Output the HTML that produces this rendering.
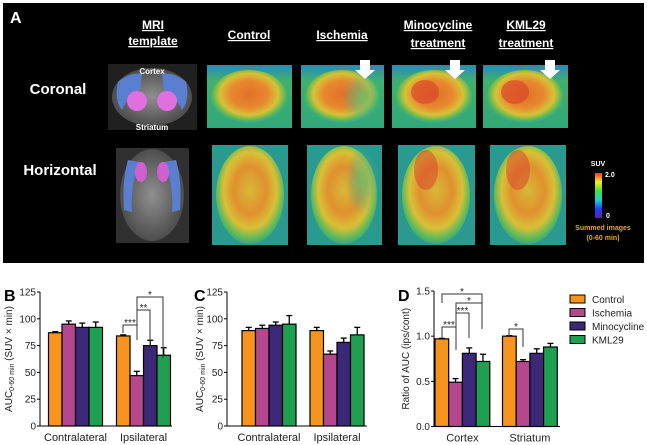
<!DOCTYPE html>
<html><head><meta charset="utf-8">
<style>
html,body{margin:0;padding:0;background:#fff;}
svg{display:block;font-family:"Liberation Sans",Arial,sans-serif;}
</style></head>
<body>
<svg id="fig" width="647" height="445" viewBox="0 0 647 445">
<defs>
  <radialGradient id="petC" cx="50%" cy="45%" r="55%">
    <stop offset="0%" stop-color="#e0702a"/>
    <stop offset="45%" stop-color="#e8882e"/>
    <stop offset="70%" stop-color="#d6c236"/>
    <stop offset="88%" stop-color="#52b85a"/>
    <stop offset="100%" stop-color="#2aa0a0"/>
  </radialGradient>
  <radialGradient id="petH" cx="50%" cy="45%" r="60%">
    <stop offset="0%" stop-color="#d8b838"/>
    <stop offset="40%" stop-color="#e0902e"/>
    <stop offset="65%" stop-color="#d8c036"/>
    <stop offset="85%" stop-color="#50b860"/>
    <stop offset="100%" stop-color="#2890a8"/>
  </radialGradient>
  <linearGradient id="bgC" x1="0" y1="0" x2="0" y2="1">
    <stop offset="0%" stop-color="#2a8ab8"/>
    <stop offset="25%" stop-color="#40b070"/>
    <stop offset="100%" stop-color="#30a878"/>
  </linearGradient>
  <radialGradient id="isch" cx="50%" cy="50%" r="50%">
    <stop offset="0%" stop-color="#70c060" stop-opacity="0.9"/>
    <stop offset="100%" stop-color="#3aa8a0" stop-opacity="0"/>
  </radialGradient>
  <radialGradient id="mri" cx="50%" cy="50%" r="60%">
    <stop offset="0%" stop-color="#909090"/>
    <stop offset="100%" stop-color="#404040"/>
  </radialGradient>
  <linearGradient id="cbar" x1="0" y1="1" x2="0" y2="0">
    <stop offset="0%" stop-color="#6020a0"/>
    <stop offset="20%" stop-color="#2040ff"/>
    <stop offset="40%" stop-color="#20d0d0"/>
    <stop offset="60%" stop-color="#40e040"/>
    <stop offset="80%" stop-color="#f0f020"/>
    <stop offset="100%" stop-color="#ff3020"/>
  </linearGradient>
</defs>

<g>
  <rect x="3" y="3" width="641" height="260" fill="#000"/>
  <text x="10" y="23" fill="#fff" font-size="16" font-weight="bold">A</text>
  <g fill="#fff" font-size="12" font-weight="bold" text-anchor="middle" text-decoration="underline">
    <text x="153" y="29">MRI</text>
    <text x="153" y="45" text-decoration="underline">template</text>
    <text x="249" y="39">Control</text>
    <text x="342" y="39">Ischemia</text>
    <text x="438" y="29">Minocycline</text>
    <text x="438" y="47">treatment</text>
    <text x="526" y="29">KML29</text>
    <text x="526" y="47">treatment</text>
  </g>
  <text x="58" y="94" fill="#fff" font-size="15" font-weight="bold" text-anchor="middle">Coronal</text>
  <text x="60" y="175" fill="#fff" font-size="15" font-weight="bold" text-anchor="middle">Horizontal</text>

  <g>
    <rect x="108" y="64" width="89" height="66" fill="#202020"/>
    <ellipse cx="152" cy="97" rx="40" ry="29" fill="url(#mri)"/>
    <path d="M118 82 Q130 72 142 74 L140 90 Q128 96 122 110 Q114 100 118 82Z" fill="#5a7fd0"/>
    <path d="M186 82 Q174 72 162 74 L164 90 Q176 96 182 110 Q190 100 186 82Z" fill="#5a7fd0"/>
    <ellipse cx="137" cy="101" rx="10" ry="10" fill="#e070e0"/>
    <ellipse cx="167" cy="101" rx="10" ry="10" fill="#e070e0"/>
    <text x="152" y="74" fill="#fff" font-size="8" font-weight="bold" text-anchor="middle">Cortex</text>
    <text x="152" y="130" fill="#fff" font-size="8" font-weight="bold" text-anchor="middle">Striatum</text>
  </g>
  <g>
    <rect x="116" y="148" width="73" height="95" fill="#303030"/>
    <ellipse cx="152" cy="195" rx="32" ry="46" fill="url(#mri)"/>
    <path d="M128 160 Q122 180 124 210 L132 212 Q130 185 140 162Z" fill="#5a7fd0"/>
    <path d="M176 160 Q182 180 180 210 L172 212 Q174 185 164 162Z" fill="#5a7fd0"/>
    <ellipse cx="141" cy="172" rx="6" ry="10" fill="#d060d0"/>
    <ellipse cx="163" cy="172" rx="6" ry="10" fill="#d060d0"/>
  </g>

  <g>
    <rect x="207" y="65" width="85" height="63" fill="url(#bgC)"/>
    <ellipse cx="249" cy="97" rx="38" ry="27" fill="url(#petC)"/>
  </g>
  <g>
    <rect x="301" y="65" width="83" height="63" fill="url(#bgC)"/>
    <ellipse cx="342" cy="97" rx="37" ry="27" fill="url(#petC)"/>
    <ellipse cx="362" cy="98" rx="20" ry="26" fill="url(#isch)"/>
    <path d="M360 60 h10 v10 h5 l-10 9 l-10 -9 h5z" fill="#fff"/>
  </g>
  <g>
    <rect x="392" y="65" width="84" height="63" fill="url(#bgC)"/>
    <ellipse cx="434" cy="97" rx="38" ry="27" fill="url(#petC)"/>
    <ellipse cx="425" cy="92" rx="14" ry="12" fill="#d8402a" opacity="0.6"/>
    <path d="M450 60 h10 v10 h5 l-10 9 l-10 -9 h5z" fill="#fff"/>
  </g>
  <g>
    <rect x="483" y="65" width="85" height="63" fill="url(#bgC)"/>
    <ellipse cx="525" cy="97" rx="38" ry="27" fill="url(#petC)"/>
    <ellipse cx="515" cy="92" rx="14" ry="12" fill="#d8402a" opacity="0.6"/>
    <path d="M545 60 h10 v10 h5 l-10 9 l-10 -9 h5z" fill="#fff"/>
  </g>
  <g>
    <rect x="212" y="145" width="76" height="100" fill="#2a9a90"/>
    <ellipse cx="250" cy="195" rx="34" ry="49" fill="url(#petH)"/>
  </g>
  <g>
    <rect x="307" y="145" width="75" height="100" fill="#2a9a90"/>
    <ellipse cx="344" cy="195" rx="33" ry="49" fill="url(#petH)"/>
    <ellipse cx="362" cy="180" rx="16" ry="35" fill="url(#isch)"/>
  </g>
  <g>
    <rect x="398" y="145" width="77" height="100" fill="#2a9a90"/>
    <ellipse cx="436" cy="195" rx="34" ry="49" fill="url(#petH)"/>
    <ellipse cx="426" cy="170" rx="12" ry="20" fill="#d8402a" opacity="0.5"/>
  </g>
  <g>
    <rect x="490" y="145" width="76" height="100" fill="#2a9a90"/>
    <ellipse cx="528" cy="195" rx="34" ry="49" fill="url(#petH)"/>
    <ellipse cx="518" cy="170" rx="12" ry="20" fill="#d8402a" opacity="0.5"/>
  </g>
  <g>
    <text x="598" y="166" fill="#fff" font-size="7" font-weight="bold" text-anchor="middle">SUV</text>
    <rect x="595" y="173" width="7" height="45" fill="url(#cbar)"/>
    <text x="605" y="177" fill="#fff" font-size="7" font-weight="bold">2.0</text>
    <text x="606" y="218" fill="#fff" font-size="7" font-weight="bold">0</text>
    <text x="603" y="230" fill="#e8a820" font-size="7" font-weight="bold" text-anchor="middle">Summed images</text>
    <text x="603" y="240" fill="#e8a820" font-size="7" font-weight="bold" text-anchor="middle">(0-60 min)</text>
  </g>
</g>

<g id="charts"></g>
</svg>
<script>
const seriesNames = ["Control", "Ischemia", "Minocycline", "KML29"];
const colors = ["#f7941d", "#b5478c", "#3b2878", "#1ea050"];
const bCategories = ["Contralateral", "Ipsilateral"];
const bValues = [[87, 95, 92, 92], [84, 47, 75, 66]];
const bErrors = [[1, 3, 4, 5], [1, 4, 5, 7]];
const cCategories = ["Contralateral", "Ipsilateral"];
const cValues = [[89, 91, 94, 95], [89, 67, 78, 85]];
const cErrors = [[3, 3, 3, 8], [3, 3, 4, 7]];
const dCategories = ["Cortex", "Striatum"];
const dValues = [[0.97, 0.49, 0.81, 0.72], [1.0, 0.72, 0.81, 0.88]];
const dErrors = [[0.005, 0.04, 0.06, 0.08], [0.005, 0.02, 0.05, 0.04]];
const aucTicks = [0, 25, 50, 75, 100, 125];
const ratioTicks = [0, 0.5, 1.0, 1.5];
const ratioTickLabels = ["0.0", "0.5", "1.0", "1.5"];

const NS = "http://www.w3.org/2000/svg";
const root = document.getElementById("charts");
function mk(tag, attrs, parent) {
  const e = document.createElementNS(NS, tag);
  for (const k in attrs) e.setAttribute(k, attrs[k]);
  (parent || root).appendChild(e);
  return e;
}

function chart(opt) {
  const g = mk("g", {});
  
  
  const y = v => opt.y0 - (v - opt.min) / (opt.max - opt.min) * (opt.y0 - opt.y1);
  const ya = mk("line", {x1: opt.ax, x2: opt.ax, y1: opt.y1, y2: opt.y0, stroke: "#000", "stroke-width": 1}, g);
  
  
  const xa = mk("line", {x1: opt.ax, x2: opt.axEnd, y1: opt.y0, y2: opt.y0, stroke: "#000", "stroke-width": 1}, g);
  
  
  opt.ticks.forEach((t, i) => {
    mk("line", {x1: opt.ax - 3, x2: opt.ax, y1: y(t), y2: y(t), stroke: "#000"}, g);
    const tl = mk("text", {x: opt.ax - 4, y: y(t) + 3.5, "font-size": 10, "text-anchor": "end", fill: "#222"}, g);
    tl.textContent = opt.tickLabels ? opt.tickLabels[i] : t;
    
    
  });
  opt.values.forEach((grp, gi) => {
    grp.forEach((v, si) => {
      const x = opt.groupX[gi] + si * opt.bw;
      const top = y(v + opt.errors[gi][si]);
      mk("line", {x1: x + opt.bw / 2, x2: x + opt.bw / 2, y1: top, y2: y(v), stroke: "#000", "stroke-width": 1.3}, g);
      mk("line", {x1: x + opt.bw / 2 - 3, x2: x + opt.bw / 2 + 3, y1: top, y2: top, stroke: "#000", "stroke-width": 1.3}, g);
      const r = mk("rect", {x: x, y: y(v), width: opt.bw, height: opt.y0 - y(v), fill: colors[si], stroke: "#000", "stroke-width": 1.2}, g);
      
      
    });
    const cl = mk("text", {x: opt.groupX[gi] + opt.bw * 2, y: opt.y0 + 15, "font-size": 11, "text-anchor": "middle", fill: "#222"}, g);
    cl.textContent = opt.categories[gi];
    
    
  });
  const pl = mk("text", {x: opt.letterX, y: 301, "font-size": 16, "font-weight": "bold", fill: "#000"}, g);
  pl.textContent = opt.letter;
  
  
  const yt = mk("text", {transform: "translate(" + opt.titleX + "," + ((opt.y0 + opt.y1) / 2) + ") rotate(-90)", "font-size": 10, "text-anchor": "middle", fill: "#222"}, g);
  
  
  if (opt.auc) {
    yt.innerHTML = 'AUC<tspan font-size="7" dy="2">0-60 min</tspan><tspan dy="-2"> (SUV × min)</tspan>';
  } else {
    yt.textContent = "Ratio of AUC  (ips/cont)";
  }
  return {g, y, opt};
}

function bracket(c, x1, x2, yy, label, y1v, y2v) {
  const g = c.g;
  const p = mk("path", {d: "M" + x1 + " " + y1v + " V" + yy + " H" + x2 + " V" + y2v, fill: "none", stroke: "#333", "stroke-width": 1}, g);
  
  
  const t = mk("text", {x: (x1 + x2) / 2, y: yy + 1, "font-size": 10, "text-anchor": "middle", fill: "#222"}, g);
  t.textContent = label;
  
  
}

const B = chart({name: "chart-b", letter: "B", letterX: 4, titleX: 12, auc: true, ax: 40, axEnd: 172, y0: 426, y1: 292, min: 0, max: 125,
  ticks: aucTicks, categories: bCategories, values: bValues, errors: bErrors, groupX: [48.5, 116.5], bw: 13.5});
const C = chart({name: "chart-c", letter: "C", letterX: 194, titleX: 203, auc: true, ax: 227, axEnd: 367, y0: 426, y1: 292, min: 0, max: 125,
  ticks: aucTicks, categories: cCategories, values: cValues, errors: cErrors, groupX: [242, 310], bw: 13.5});
const D = chart({name: "chart-d", letter: "D", letterX: 398, titleX: 409, auc: false, ax: 434, axEnd: 560, y0: 426.5, y1: 291, min: 0, max: 1.5,
  ticks: ratioTicks, tickLabels: ratioTickLabels, categories: dCategories, values: dValues, errors: dErrors, groupX: [435, 502.5], bw: 13.7});

bracket(B, 123, 137, 325, "***", 333, 340);
bracket(B, 137, 150, 310, "**", 325, 352);
bracket(B, 137, 163, 297, "*", 310, 358);
bracket(D, 442, 482, 294, "*", 303, 329);
bracket(D, 456, 482, 303, "*", 313, 329);
bracket(D, 456, 469, 313, "***", 327, 338);
bracket(D, 442, 456, 327, "***", 338, 350);
bracket(D, 509, 523, 329, "*", 336, 347);

const lg = mk("g", {});


seriesNames.forEach((n, i) => {
  const yy = 299 + i * 13.5;
  const sw = mk("rect", {x: 570, y: yy - 4, width: 15, height: 8, fill: colors[i], stroke: "#000", "stroke-width": 1}, lg);
  
  
  const t = mk("text", {x: 592, y: yy + 4, "font-size": 10, fill: "#222"}, lg);
  t.textContent = n;
  
  
});
</script>
</body></html>
